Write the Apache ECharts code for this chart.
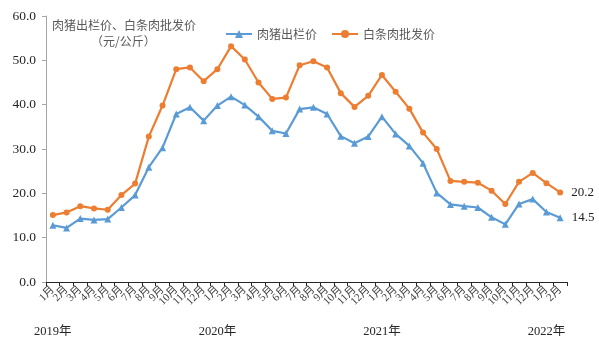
<!DOCTYPE html>
<html>
<head>
<meta charset="utf-8">
<script src="https://cdn.jsdelivr.net/npm/echarts@6/dist/echarts.min.js"></script>
<style>
  html, body { margin: 0; padding: 0; background: #fff; }
  #chart { width: 599px; height: 341px; }
</style>
</head>
<body>
<div id="chart"></div>
<script>
// Monthly hog prices, Jan 2019 – Feb 2022 (元/公斤)
const months = [
  '1月','2月','3月','4月','5月','6月','7月','8月','9月','10月','11月','12月',
  '1月','2月','3月','4月','5月','6月','7月','8月','9月','10月','11月','12月',
  '1月','2月','3月','4月','5月','6月','7月','8月','9月','10月','11月','12月',
  '1月','2月'
];
// Year captions, keyed by the index of the month where each year starts
const yearLabels = { 0: '2019年', 12: '2020年', 24: '2021年', 36: '2022年' };

const hogPrice = [
  12.8, 12.2, 14.3, 14.0, 14.2, 16.8, 19.6, 25.9, 30.3, 37.9, 39.4, 36.4,
  39.8, 41.8, 39.9, 37.3, 34.1, 33.5, 39.0, 39.4, 37.9, 32.9, 31.3, 32.8,
  37.3, 33.4, 30.7, 26.8, 20.1, 17.5, 17.1, 16.8, 14.6, 13.0, 17.6, 18.7,
  15.8, 14.5
];
const porkWholesale = [
  15.1, 15.7, 17.1, 16.6, 16.3, 19.6, 22.2, 32.8, 39.8, 48.0, 48.4, 45.3,
  48.0, 53.2, 50.2, 45.0, 41.3, 41.6, 48.9, 49.8, 48.4, 42.6, 39.5, 42.0,
  46.7, 42.9, 39.1, 33.7, 30.0, 22.8, 22.6, 22.4, 20.6, 17.6, 22.6, 24.6,
  22.3, 20.2
];
const yTicks = { min: 0, max: 60, step: 10 };

const serif = '"Liberation Serif", "DejaVu Serif", serif';
const cjk = '"Liberation Serif", "Noto Sans CJK SC", sans-serif';
const sans = '"Noto Sans CJK SC", sans-serif';
const BLUE = '#5B9BD5';
const ORANGE = '#ED7D31';
const lastIdx = months.length - 1;

const chart = echarts.init(document.getElementById('chart'), null, { renderer: 'canvas' });

function endLabel() {
  return {
    show: true,
    position: 'right',
    distance: 8,
    fontFamily: serif,
    fontSize: 13,
    color: '#222',
    formatter: p => (p.dataIndex === lastIdx ? p.value.toFixed(1) : '')
  };
}

chart.setOption({
  animation: false,
  grid: { left: 46, right: 32, top: 16, bottom: 59 },
  legend: {
    top: 23,
    left: 220,
    itemWidth: 26,
    itemHeight: 10,
    itemGap: 14,
    textStyle: { fontFamily: sans, fontSize: 12, color: '#595959' },
    data: ['肉猪出栏价', '白条肉批发价']
  },
  graphic: [
    {
      type: 'text', left: 52, top: 19,
      style: { text: '肉猪出栏价、白条肉批发价', fontFamily: sans, fontSize: 12, fill: '#595959' }
    },
    {
      type: 'text', left: 91, top: 35,
      style: { text: '（元/公斤）', fontFamily: sans, fontSize: 12, fill: '#595959' }
    }
  ],
  xAxis: [
    {
      type: 'category',
      data: months,
      boundaryGap: true,
      position: 'bottom',
      axisLine: { lineStyle: { color: '#262626', width: 1 } },
      axisTick: { show: true, length: 4, inside: false, lineStyle: { color: '#262626' } },
      axisLabel: {
        interval: 0, rotate: 45, margin: 6,
        fontFamily: cjk, fontSize: 11, color: '#404040'
      },
      splitLine: { show: false }
    },
    {
      type: 'category',
      data: months,
      position: 'bottom',
      offset: 0,
      axisLine: { show: false },
      axisTick: { show: false },
      axisLabel: {
        interval: 0, margin: 43,
        fontFamily: cjk, fontSize: 12.5, color: '#262626',
        formatter: (v, i) => yearLabels[i] || ''
      },
      splitLine: { show: false }
    }
  ],
  yAxis: {
    type: 'value',
    min: yTicks.min,
    max: yTicks.max,
    interval: yTicks.step,
    axisLine: { show: true, lineStyle: { color: '#A6A6A6' } },
    axisTick: { show: true, length: 4, lineStyle: { color: '#A6A6A6' } },
    axisLabel: {
      margin: 10, fontFamily: serif, fontSize: 13.5, color: '#262626',
      formatter: v => v.toFixed(1)
    },
    splitLine: { show: false }
  },
  series: [
    {
      name: '肉猪出栏价',
      type: 'line',
      data: hogPrice,
      symbol: 'triangle',
      symbolSize: 7,
      lineStyle: { color: BLUE, width: 2.2 },
      itemStyle: { color: BLUE },
      label: endLabel()
    },
    {
      name: '白条肉批发价',
      type: 'line',
      data: porkWholesale,
      symbol: 'circle',
      symbolSize: 6,
      lineStyle: { color: ORANGE, width: 2.2 },
      itemStyle: { color: ORANGE },
      label: endLabel()
    }
  ]
});
</script>
</body>
</html>
